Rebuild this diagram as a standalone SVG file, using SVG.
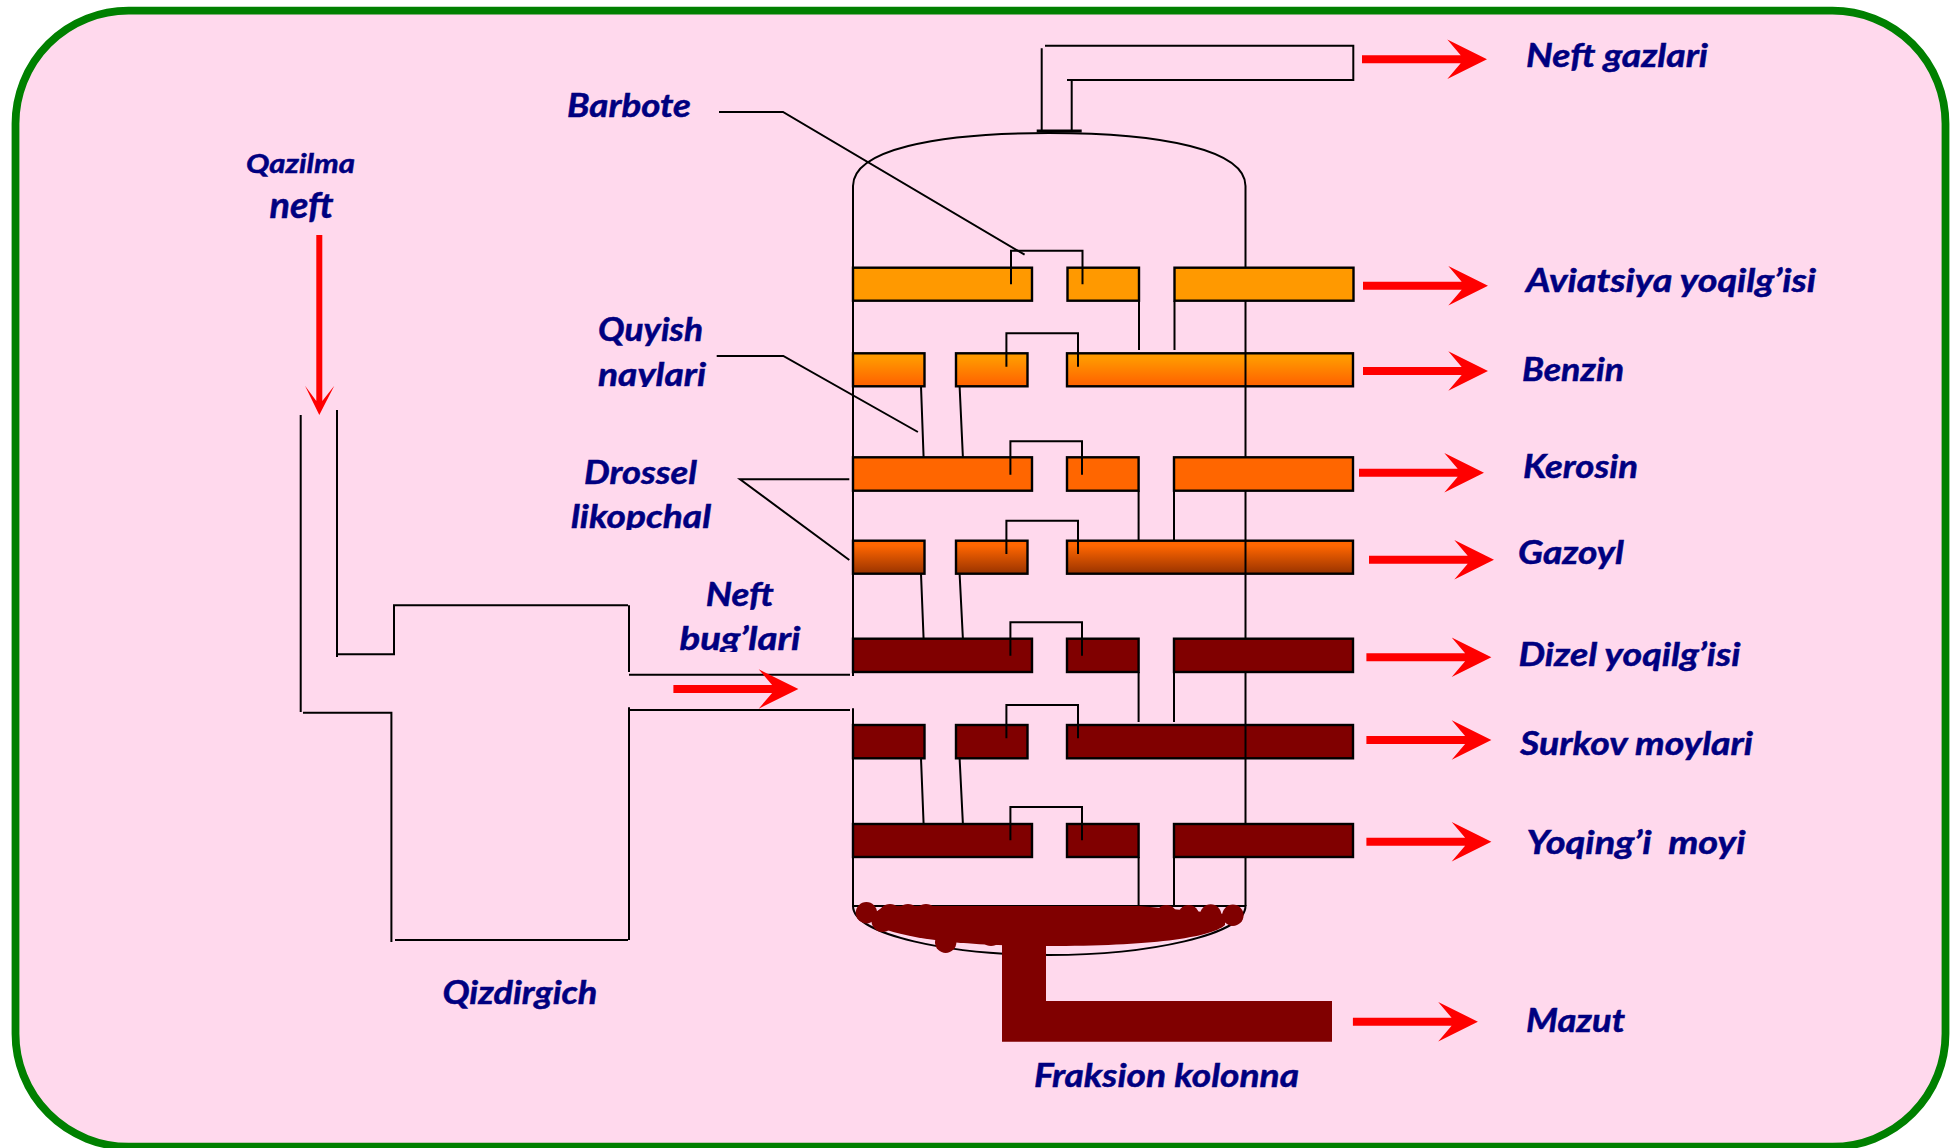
<svg xmlns="http://www.w3.org/2000/svg" xmlns:xlink="http://www.w3.org/1999/xlink" width="1953" height="1148" viewBox="0 0 1953 1148">
<style>
.t{font-family:"Lato","Open Sans","Liberation Sans",sans-serif;font-weight:700;font-style:italic;fill:#000080;stroke:#000080;stroke-width:0.5;font-size:33px}
.l{fill:none;stroke:#000;stroke-width:2}
.r{stroke:#000;stroke-width:2.4}
.o1{fill:#FF9900}.o2{fill:url(#g2)}.o3{fill:#FF6600}.o4{fill:url(#g4)}.o5{fill:#800000}
.a{fill:#FF0000}
</style>
<defs>
<linearGradient id="g2" x1="0" y1="0" x2="0" y2="1"><stop offset="0.15" stop-color="#FF9900"/><stop offset="0.9" stop-color="#FF6600"/></linearGradient>
<linearGradient id="g4" x1="0" y1="0" x2="0" y2="1"><stop offset="0.15" stop-color="#FF6600"/><stop offset="1" stop-color="#993300"/></linearGradient>
<polygon id="arrow" points="0,-4 98.7,-4 85.3,-19.7 125,0 85.3,19.7 98.7,4 0,4"/>
<clipPath id="c1"><rect x="560" y="345" width="200" height="42"/></clipPath>
<clipPath id="c2"><rect x="560" y="490" width="200" height="40"/></clipPath>
<clipPath id="c3"><rect x="660" y="615" width="160" height="37"/></clipPath>
</defs>
<rect id="panel" x="15.5" y="10.7" width="1930" height="1136" rx="113" ry="113" fill="#FFD9ED" stroke="#008000" stroke-width="7.8"/>

<g id="connectors">
<path class="l" d="M300.7,415V712M337,410V657M303,712.7H392M337,654.3H394V605.3H628M629,605.3V672M629,674.7H850M629,707.3V940M629,710H850M391.4,711.7V942M395,940H628"/>
<path class="l" d="M719,112H783L1024.6,254.7M716.7,356H783.3L917.9,432M849.3,479.3H740L849.3,560"/>
</g>

<g id="column">
<path class="l" d="M853,676V186C853,150 935,133 1049,133C1163,133 1245.5,150 1245.5,186V906"/>
<path class="l" d="M853,708.3V906H1245.5C1245.5,935 1148,955 1049,955C950,955 853,935 853,906"/>
<path class="l" d="M1041.7,132V48.3M1045,45.7H1353.3V80H1067M1071.7,80V132"/>
<path d="M1036.7,131H1081.7" fill="none" stroke="#000" stroke-width="3"/>
</g>

<g id="tray-2">
<rect class="r o2" x="853" y="353.3" width="71.5" height="33"/><rect class="r o2" x="956" y="353.3" width="71.5" height="33"/><rect class="r o2" x="1067" y="353.3" width="286" height="33"/>
<path class="l" d="M1006.4,366.7V333.3H1078V366.7M1139,300.7V350M1174.5,300.7V350"/>
<path class="l" d="M1245.5,353V387M921,386.3L923.6,457.3M959.6,386.3L962.9,457.3"/>
</g>
<g id="tray-4">
<rect class="r o4" x="853" y="540.7" width="71.5" height="33"/><rect class="r o4" x="956" y="540.7" width="71.5" height="33"/><rect class="r o4" x="1067" y="540.7" width="286" height="33"/>
<path class="l" d="M1006.4,554V520.7H1078V554M1138.6,490.7V540.3M1174,490.7V540.3"/>
<path class="l" d="M1245.5,540V574M921,573.7L923.6,638.7M959.6,573.7L962.9,638.7"/>
</g>
<g id="tray-6">
<rect class="r o5" x="853" y="725" width="71.5" height="33.3"/><rect class="r o5" x="956" y="725" width="71.5" height="33.3"/><rect class="r o5" x="1067" y="725" width="286" height="33.3"/>
<path class="l" d="M1006.4,738.3V705H1078V738.3M1138.6,672V722M1174,672V722"/>
<path class="l" d="M1245.5,725V759M921,758.3L923.6,824M959.6,758.3L962.9,824"/>
</g>
<g id="tray-1">
<rect class="r o1" x="853" y="267.7" width="179" height="33"/><rect class="r o1" x="1067.5" y="267.7" width="71.5" height="33"/><rect class="r o1" x="1174.5" y="267.7" width="179" height="33"/>
<path class="l" d="M1011,284.3V250.7H1082.5V284.3"/>
</g>
<g id="tray-3">
<rect class="r o3" x="853" y="457.3" width="179" height="33.4"/><rect class="r o3" x="1067" y="457.3" width="71.6" height="33.4"/><rect class="r o3" x="1174" y="457.3" width="179" height="33.4"/>
<path class="l" d="M1010.4,474.7V441.3H1082V474.7"/>
</g>
<g id="tray-5">
<rect class="r o5" x="853" y="638.7" width="179" height="33.3"/><rect class="r o5" x="1067" y="638.7" width="71.6" height="33.3"/><rect class="r o5" x="1174" y="638.7" width="179" height="33.3"/>
<path class="l" d="M1010.4,655.7V622.3H1082V655.7"/>
</g>
<g id="tray-7">
<rect class="r o5" x="853" y="824" width="179" height="33"/><rect class="r o5" x="1067" y="824" width="71.6" height="33"/><rect class="r o5" x="1174" y="824" width="179" height="33"/>
<path class="l" d="M1010.4,840.3V807H1082V840.3M1138.6,857V906M1174,857V906"/>
</g>

<g id="mazut" class="o5">
<path d="M884,906H1140L1225,914V925C1210,938 1150,946 1047,946C960,946 895,938 872,923V915Z"/>
<circle cx="866.4" cy="912.7" r="10.7"/><circle cx="882.5" cy="921" r="11"/><circle cx="890" cy="915" r="11"/><circle cx="908" cy="915" r="11"/><circle cx="926" cy="915" r="11"/>
<circle cx="945.7" cy="942.3" r="10.7"/><circle cx="991" cy="935" r="11"/>
<circle cx="1166.4" cy="915.7" r="10.7"/><circle cx="1188.6" cy="915.7" r="10.7"/><circle cx="1210.7" cy="915" r="10.7"/><circle cx="1232.9" cy="915.3" r="10.7"/>
<path d="M1002,935H1046V1001H1332V1041.7H1002Z"/>
</g>

<g id="arrows" class="a">
<use href="#arrow" x="1362" y="59.3"/>
<use href="#arrow" x="1363" y="285.7"/>
<use href="#arrow" x="1363" y="371"/>
<use href="#arrow" x="1359" y="472.7"/>
<use href="#arrow" x="1369" y="559.7"/>
<use href="#arrow" x="1366.4" y="657.3"/>
<use href="#arrow" x="1366.4" y="740"/>
<use href="#arrow" x="1366.4" y="841.7"/>
<use href="#arrow" x="1352.9" y="1021.7"/>
<use href="#arrow" x="673.4" y="689"/>
<polygon points="316.3,235 322.3,235 322.3,401 334.3,385.7 319.3,415 305,385.7 316.3,401"/>
</g>

<g id="labels">
<text class="t" x="246" y="173.2" textLength="109" lengthAdjust="spacingAndGlyphs" style="font-size:27px">Qazilma</text>
<text class="t" x="269.5" y="217.7" textLength="64" lengthAdjust="spacingAndGlyphs" style="font-size:36px">neft</text>
<text class="t" x="567" y="117" textLength="124" lengthAdjust="spacingAndGlyphs">Barbote</text>
<text class="t" x="598" y="341" textLength="105" lengthAdjust="spacingAndGlyphs">Quyish</text>
<text class="t" x="598" y="386" textLength="108" lengthAdjust="spacingAndGlyphs" clip-path="url(#c1)">naylari</text>
<text class="t" x="584" y="483.7" textLength="113" lengthAdjust="spacingAndGlyphs">Drossel</text>
<text class="t" x="571" y="528" textLength="140" lengthAdjust="spacingAndGlyphs" clip-path="url(#c2)">likopchal</text>
<text class="t" x="705.7" y="606" textLength="68" lengthAdjust="spacingAndGlyphs">Neft</text>
<text class="t" x="679.5" y="650.3" textLength="121" lengthAdjust="spacingAndGlyphs" clip-path="url(#c3)">bug’lari</text>
<text class="t" x="442.4" y="1004" textLength="155" lengthAdjust="spacingAndGlyphs">Qizdirgich</text>
<text class="t" x="1034" y="1087" textLength="265" lengthAdjust="spacingAndGlyphs">Fraksion kolonna</text>
<text class="t" x="1526" y="67" textLength="182" lengthAdjust="spacingAndGlyphs">Neft gazlari</text>
<text class="t" x="1526" y="292" textLength="290" lengthAdjust="spacingAndGlyphs">Aviatsiya yoqilg’isi</text>
<text class="t" x="1522" y="381" textLength="102" lengthAdjust="spacingAndGlyphs">Benzin</text>
<text class="t" x="1523" y="478" textLength="115" lengthAdjust="spacingAndGlyphs">Kerosin</text>
<text class="t" x="1518" y="564" textLength="106" lengthAdjust="spacingAndGlyphs">Gazoyl</text>
<text class="t" x="1518.5" y="666" textLength="222" lengthAdjust="spacingAndGlyphs">Dizel yoqilg’isi</text>
<text class="t" x="1520" y="755" textLength="233" lengthAdjust="spacingAndGlyphs">Surkov moylari</text>
<text class="t" x="1526.5" y="854" textLength="219" lengthAdjust="spacingAndGlyphs" xml:space="preserve">Yoqing’i  moyi</text>
<text class="t" x="1526" y="1032" textLength="99" lengthAdjust="spacingAndGlyphs">Mazut</text>
</g>
</svg>
